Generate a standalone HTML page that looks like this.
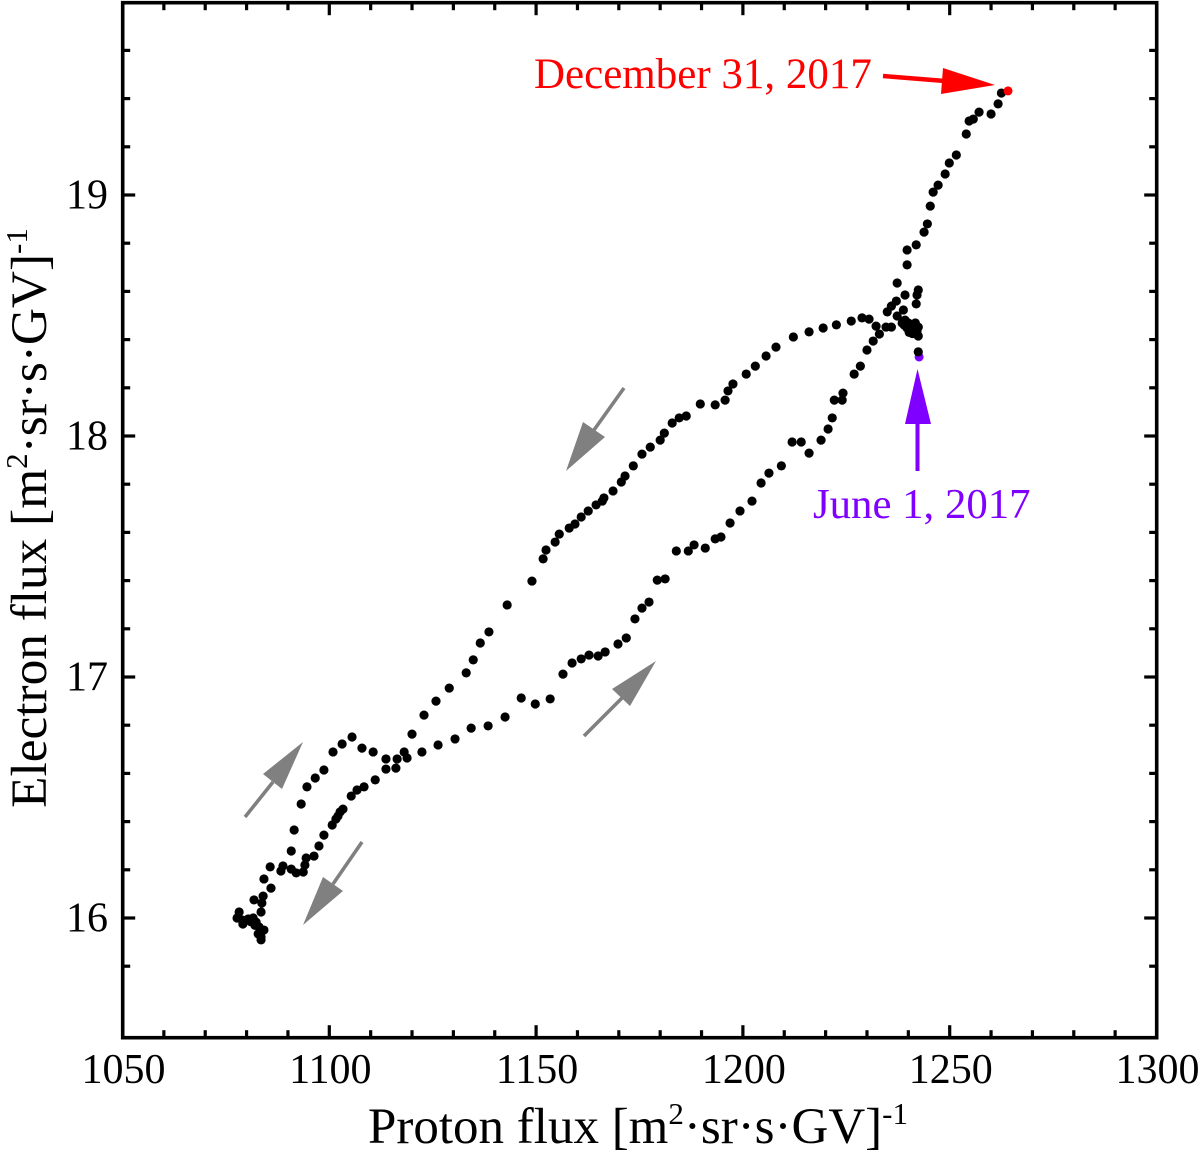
<!DOCTYPE html>
<html lang="en">
<head>
<meta charset="utf-8">
<title>Electron flux vs proton flux</title>
<style>
html,body{margin:0;padding:0;background:#fff;}
svg{display:block;}
text{font-family:"Liberation Serif",serif;fill:#000;}
</style>
</head>
<body>
<svg id="chart" width="1200" height="1152" viewBox="0 0 1200 1152" xmlns="http://www.w3.org/2000/svg">
  <rect x="0" y="0" width="1200" height="1152" fill="#fff"/>
  <g id="ticks"></g>
  <g id="tick-labels"></g>
  <g id="points"></g>
  <rect x="122.7" y="2.7" width="1034" height="1035" fill="none" stroke="#000" stroke-width="3.6"/>

  <text x="638" y="1143" font-size="51" text-anchor="middle">Proton flux [m<tspan font-size="31" dy="-19">2</tspan><tspan dy="19">·sr·s·GV]</tspan><tspan font-size="31" dy="-19">-1</tspan></text>
  <text transform="translate(46,518) rotate(-90)" x="0" y="0" font-size="51.3" text-anchor="middle">Electron flux [m<tspan font-size="31" dy="-19">2</tspan><tspan dy="19">·sr·s·GV]</tspan><tspan font-size="31" dy="-19">-1</tspan></text>

  <g>
    <line x1="624" y1="388" x2="594" y2="430" stroke="#808080" stroke-width="3.6"/>
    <polygon points="566,471 583,422 605,437" fill="#808080"/>
  </g>
  <g>
    <line x1="584" y1="736" x2="622" y2="698" stroke="#808080" stroke-width="3.6"/>
    <polygon points="656,661 612,689 630,706" fill="#808080"/>
  </g>
  <g>
    <line x1="245" y1="817" x2="273" y2="782" stroke="#808080" stroke-width="3.6"/>
    <polygon points="303,742 263,774 282,789" fill="#808080"/>
  </g>
  <g>
    <line x1="362" y1="842" x2="333" y2="884" stroke="#808080" stroke-width="3.6"/>
    <polygon points="303,925 323,877 343,891" fill="#808080"/>
  </g>

  <g>
    <text x="534" y="88" font-size="43" style="fill:#ff0000">December 31, 2017</text>
    <line x1="883" y1="76" x2="945" y2="81" stroke="#ff0000" stroke-width="4.4"/>
    <polygon points="995,85 943,68 941,94" fill="#ff0000"/>
  </g>
  <g>
    <text x="813" y="518" font-size="42.8" style="fill:#7f00ff">June 1, 2017</text>
    <line x1="917.5" y1="471" x2="917.5" y2="422" stroke="#7f00ff" stroke-width="4"/>
    <polygon points="917.5,369 905,424 931,424" fill="#7f00ff"/>
  </g>
</svg>
<script>
const xTickLabels = [1050, 1100, 1150, 1200, 1250, 1300];
const yTickLabels = [16, 17, 18, 19];
const startProton = [1242.6];
const startElectron = [18.328];
const endProton = [1264.1];
const endElectron = [19.432];
const protonFlux = [
  1242.4,1242.4,1242.1,1242.4,1240.9,1239.7,1241.7,1240.9,1240.0,1239.2,1238.5,1238.8,1237.3,1241.9,1242.1,1242.4,1239.2,1237.1,1235.9,1234.9,
  1240.4,1241.4,1235.9,1234.6,1232.2,1230.5,1228.8,1226.2,1222.6,1219.4,1216.0,1212.2,1208.0,1205.6,1203.0,1200.8,1197.6,1196.4,1195.7,1193.3,
  1189.7,1186.3,1184.6,1182.9,1181.0,1180.0,1177.6,1175.6,1173.5,1171.5,1170.6,1168.6,1166.4,1166.0,1164.5,1162.6,1160.9,1159.4,1158.0,1155.6,
  1154.6,1152.4,1151.7,1149.0,1143.0,1138.6,1136.5,1134.8,1133.1,1129.0,1125.8,1122.9,1120.0,1118.1,1116.4,1113.7,1110.6,1107.9,1105.5,1103.1,
  1100.9,1098.7,1096.6,1094.6,1093.2,1091.5,1090.8,1085.7,1084.2,1085.9,1084.0,1083.7,1081.8,1083.5,1081.6,1080.4,1078.9,1078.2,1077.7,1079.1,
  1082.3,1083.0,1084.2,1082.8,1083.5,1083.5,1088.3,1088.8,1090.8,1092.0,1093.7,1094.1,1094.4,1096.3,1097.5,1098.7,1100.7,1101.6,1102.1,1102.6,
  1103.3,1105.3,1106.7,1108.4,1111.1,1113.7,1116.1,1118.8,1122.4,1126.3,1130.4,1134.3,1138.4,1142.5,1146.4,1149.8,1153.4,1156.5,1158.7,1160.9,
  1162.8,1165.0,1166.7,1169.8,1171.8,1173.9,1175.6,1177.3,1179.3,1181.2,1183.9,1186.8,1188.2,1190.9,1193.3,1194.7,1196.9,1199.3,1202.2,1204.4,
  1206.3,1209.3,1211.9,1214.1,1216.0,1218.9,1220.6,1221.6,1222.1,1224.0,1224.2,1226.9,1228.4,1230.0,1231.5,1233.0,1237.3,1239.7,1239.7,1241.9,
  1243.8,1244.6,1245.3,1246.0,1247.2,1248.9,1249.9,1251.6,1254.0,1254.7,1255.7,1257.1,1260.0,1261.7,1262.5,
  1240.2,1241.0,1241.8,1239.0,1081.0,1082.0
];
const electronFlux = [
  18.349,18.415,18.436,18.452,18.440,18.448,18.469,18.461,18.469,18.481,18.469,18.523,18.498,18.548,18.585,18.606,18.585,18.560,18.539,18.515,
  18.452,18.448,18.452,18.452,18.456,18.485,18.490,18.477,18.461,18.448,18.432,18.411,18.369,18.332,18.290,18.257,18.216,18.187,18.149,18.129,
  18.133,18.083,18.075,18.054,18.012,17.983,17.954,17.925,17.876,17.834,17.809,17.772,17.743,17.730,17.714,17.689,17.664,17.635,17.618,17.593,
  17.560,17.527,17.490,17.398,17.299,17.187,17.141,17.071,17.017,16.954,16.900,16.842,16.763,16.689,16.660,16.660,16.689,16.705,16.751,16.722,
  16.689,16.614,16.581,16.544,16.473,16.365,16.278,16.212,16.162,16.124,16.091,16.062,16.075,16.025,16.000,15.996,15.992,16.025,16.000,15.975,
  15.983,15.963,15.950,15.934,15.921,15.909,16.195,16.216,16.203,16.187,16.191,16.220,16.249,16.257,16.299,16.344,16.386,16.411,16.423,16.440,
  16.452,16.506,16.531,16.544,16.573,16.618,16.622,16.664,16.689,16.718,16.743,16.788,16.797,16.834,16.913,16.888,16.909,17.012,17.058,17.075,
  17.091,17.087,17.104,17.137,17.162,17.241,17.286,17.311,17.402,17.407,17.523,17.523,17.548,17.535,17.573,17.581,17.639,17.689,17.730,17.805,
  17.846,17.876,17.975,17.975,17.929,17.983,18.029,18.075,18.149,18.149,18.178,18.257,18.290,18.357,18.394,18.423,18.635,18.710,18.772,18.793,
  18.846,18.880,18.954,19.012,19.041,19.087,19.133,19.166,19.253,19.307,19.315,19.344,19.336,19.378,19.423,
  18.430,18.425,18.440,18.460,15.985,15.970
];

const SVG_NS = 'http://www.w3.org/2000/svg';
const X0 = 1050, X1 = 1300, Y0 = 15.5, Y1 = 19.8;
const XPX0 = 122.5, XPX1 = 1156.5, YREF = 918, YSCALE = 241;
function xScale(v) { return XPX0 + (v - X0) * (XPX1 - XPX0) / (X1 - X0); }
function yScale(v) { return YREF - (v - 16) * YSCALE; }
function make(tag, attrs) {
  const el = document.createElementNS(SVG_NS, tag);
  for (const k in attrs) el.setAttribute(k, attrs[k]);
  return el;
}

const tickGroup = document.getElementById('ticks');
const labelGroup = document.getElementById('tick-labels');
const pointGroup = document.getElementById('points');
const TOP = 2.7, BOTTOM = 1037.7, LEFT = 122.7, RIGHT = 1156.7;
const MAJOR = 12.5, MINOR = 7.5;

const xMajorStep = xTickLabels[1] - xTickLabels[0];
for (let v = X0 + xMajorStep / 5; v < X1 - 0.001; v += xMajorStep / 5) {
  const isMajor = Math.abs(v / xMajorStep - Math.round(v / xMajorStep)) < 1e-6;
  const len = isMajor ? MAJOR : MINOR;
  const px = xScale(v);
  const bottomTick = make('line', {x1: px, x2: px, y1: BOTTOM, y2: BOTTOM - len, stroke: '#000', 'stroke-width': 3.2});
  
  
  tickGroup.appendChild(bottomTick);
  const topTick = make('line', {x1: px, x2: px, y1: TOP, y2: TOP + len, stroke: '#000', 'stroke-width': 3.2});
  
  
  tickGroup.appendChild(topTick);
}
for (let i = Math.ceil(Y0 * 5) + 1; i / 5 < Y1 - 0.001; i++) {
  const v = i / 5;
  const isMajor = i % 5 === 0;
  const len = isMajor ? MAJOR : MINOR;
  const py = yScale(v);
  const leftTick = make('line', {x1: LEFT, x2: LEFT + len, y1: py, y2: py, stroke: '#000', 'stroke-width': 3.2});
  
  
  tickGroup.appendChild(leftTick);
  const rightTick = make('line', {x1: RIGHT, x2: RIGHT - len, y1: py, y2: py, stroke: '#000', 'stroke-width': 3.2});
  
  
  tickGroup.appendChild(rightTick);
}

xTickLabels.forEach(function (t) {
  const lab = make('text', {x: xScale(t) + 1, y: 1083, 'font-size': 42, 'text-anchor': 'middle'});
  lab.textContent = String(t);
  
  
  labelGroup.appendChild(lab);
});
yTickLabels.forEach(function (t) {
  const lab = make('text', {x: 108, y: yScale(t) + 13.5, 'font-size': 42, 'text-anchor': 'end'});
  lab.textContent = String(t);
  
  
  labelGroup.appendChild(lab);
});

startProton.forEach(function (p, i) {
  const dot = make('circle', {cx: xScale(p), cy: yScale(startElectron[i]), r: 4.5, fill: '#7f00ff'});
  
  
  pointGroup.appendChild(dot);
});
protonFlux.forEach(function (p, i) {
  const dot = make('circle', {cx: xScale(p), cy: yScale(electronFlux[i]), r: 4.6, fill: '#000'});
  
  
  pointGroup.appendChild(dot);
});
endProton.forEach(function (p, i) {
  const dot = make('circle', {cx: xScale(p), cy: yScale(endElectron[i]), r: 4.5, fill: '#ff0000'});
  
  
  pointGroup.appendChild(dot);
});
</script>
</body>
</html>
